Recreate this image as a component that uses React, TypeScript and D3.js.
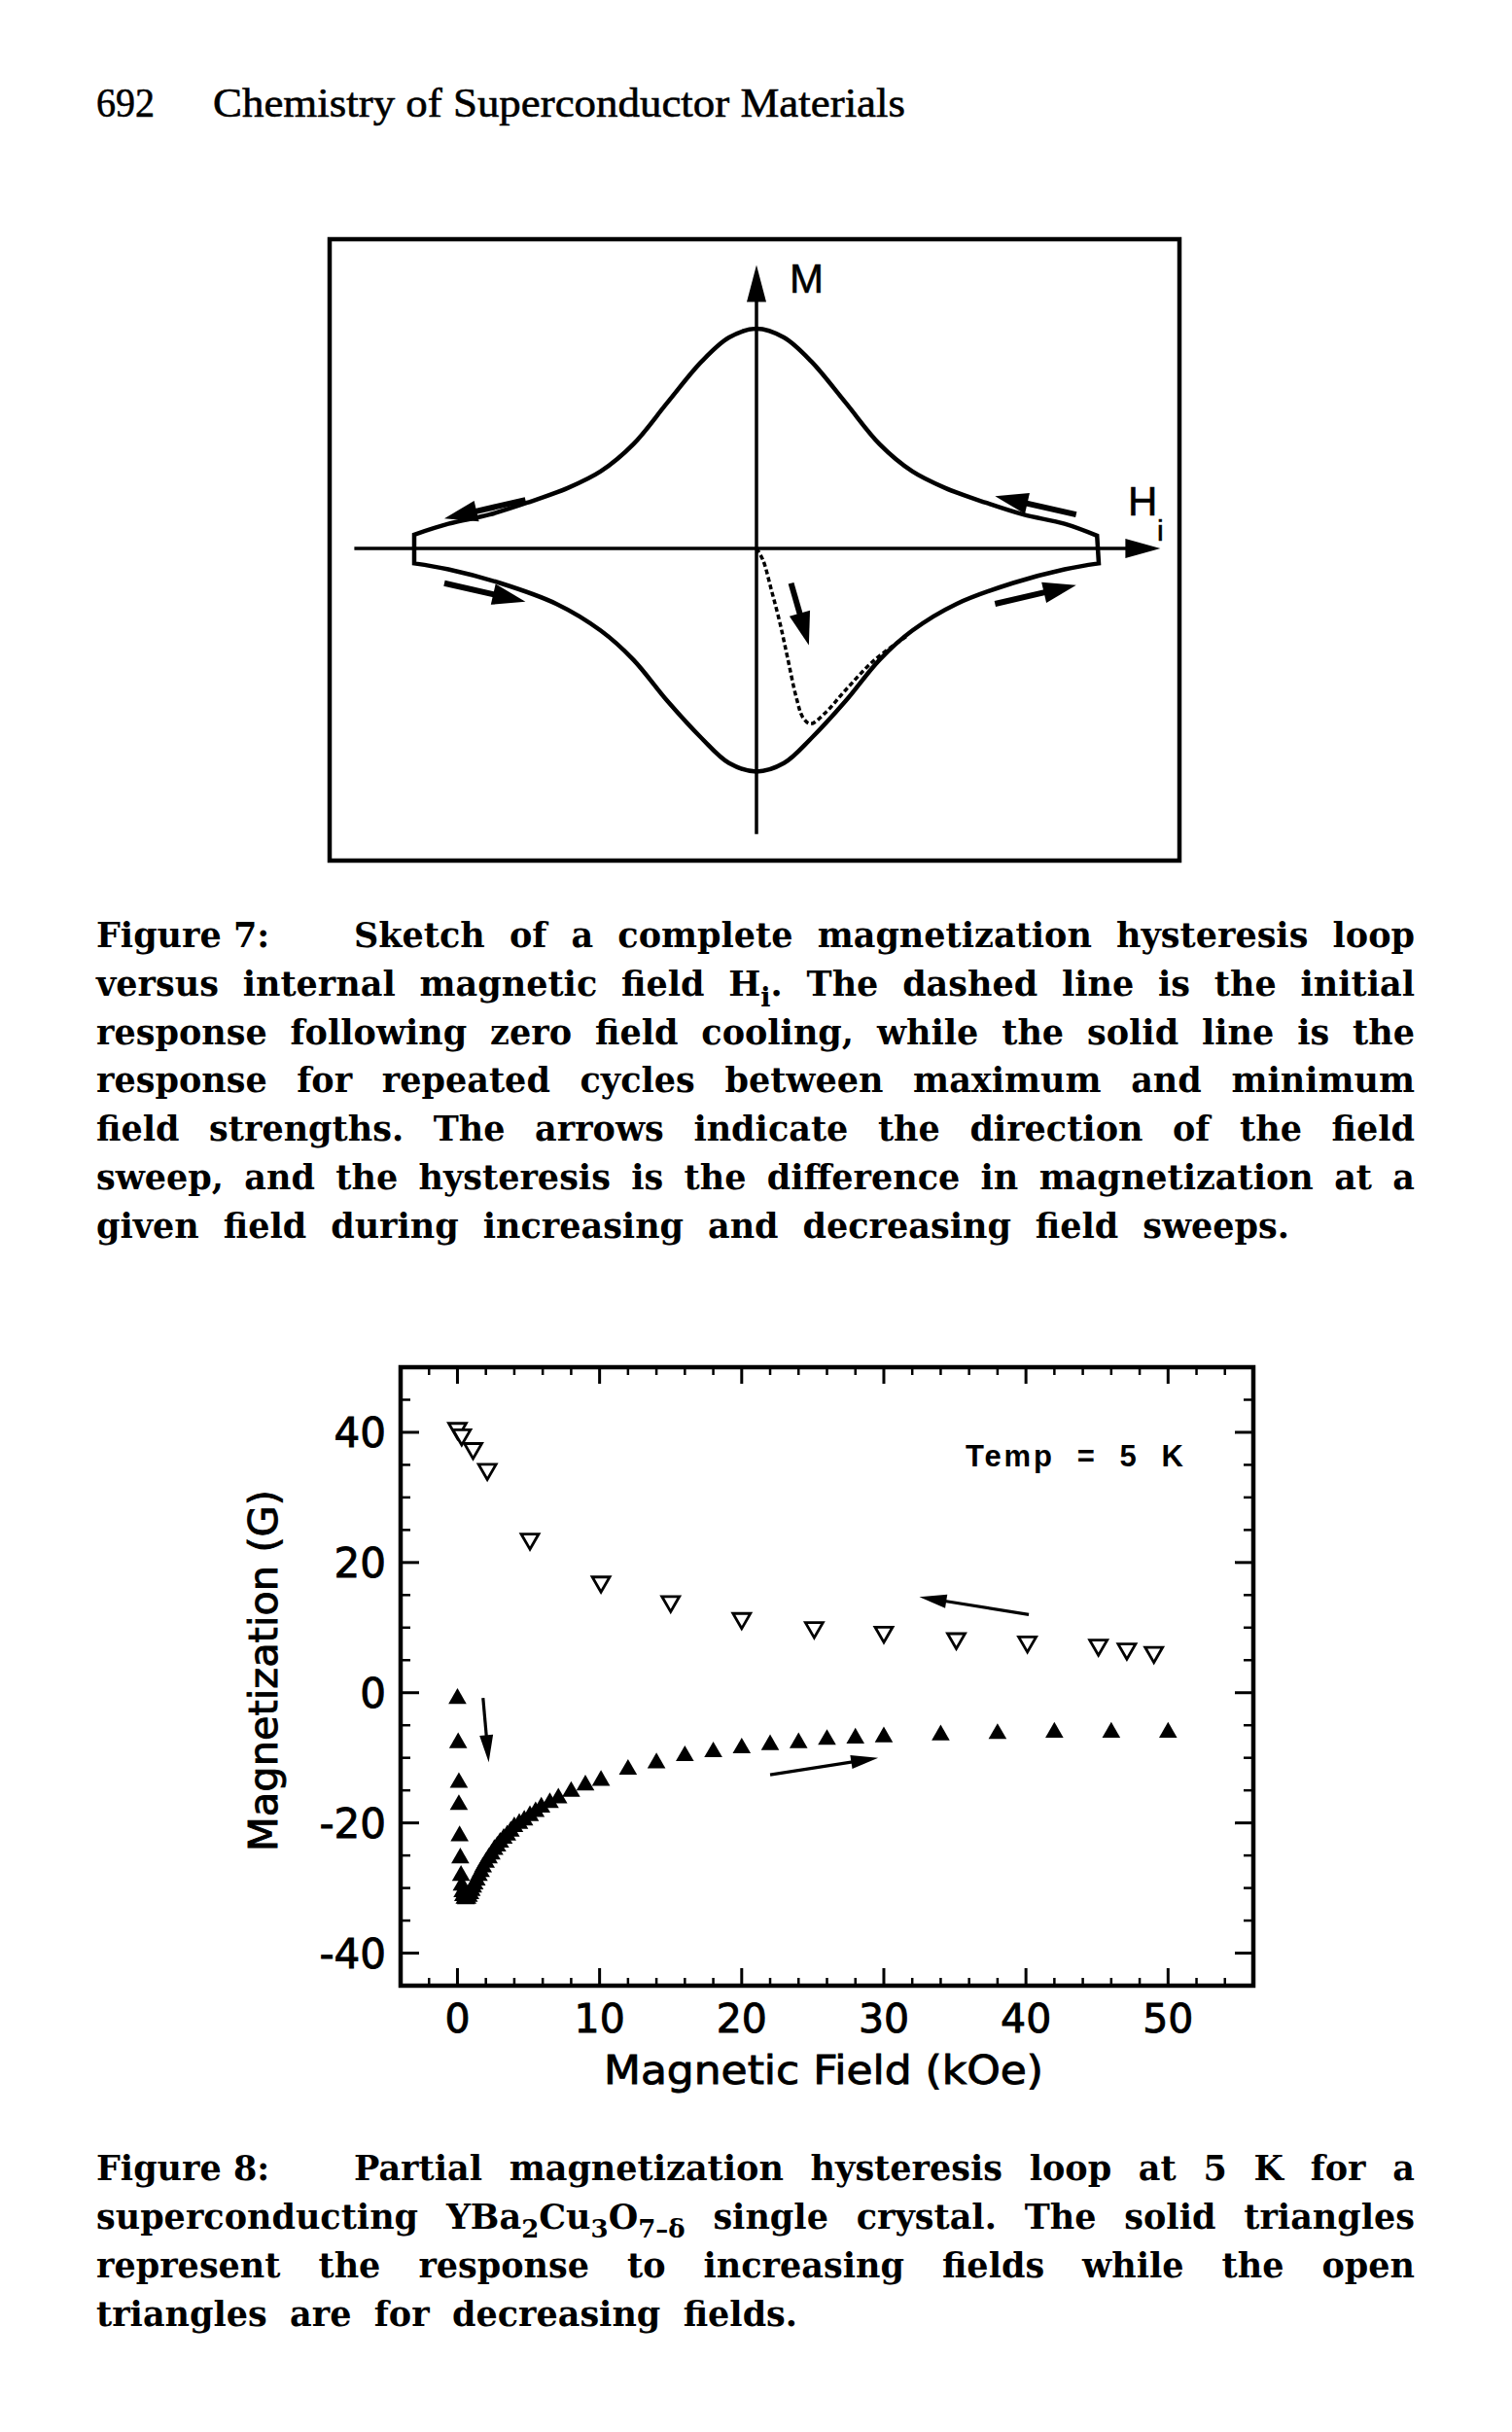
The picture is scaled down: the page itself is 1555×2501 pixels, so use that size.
import React, { useLayoutEffect, useRef } from 'react';
import * as d3 from 'd3';

// ---------- Figure 7 (sketch) data, arbitrary units: H = +-100 at loop ends, M = 100 at peak ----------
const loopUpperH = [-100, -90, -78, -67, -55, -45.5, -36, -26, -16, -8, 0, 8, 16, 26, 36, 45.5, 55, 67, 78, 90, 99.5];
const loopUpperM = [6.3, 11.2, 15.4, 20.8, 27.6, 35.1, 47.4, 66.4, 85.1, 96, 100, 96, 85.1, 66.4, 47.4, 35.1, 27.6, 20.8, 15.4, 11.2, 5.8];
const loopLowerH = [-100, -90, -75, -58.5, -45.5, -36, -26, -16, -8, 0, 8, 16, 26, 36, 45.5, 58.5, 75, 90, 100];
const loopLowerM = [-6.8, -9.5, -15.7, -25.2, -37.4, -50.6, -69.5, -86.4, -97.7, -101.5, -97.7, -86.4, -69.5, -50.6, -37.4, -25.2, -15.7, -9.5, -6.8];
const virginH = [0, 1.9, 4.3, 6.8, 9.2, 11.6, 13.6, 15.8, 19.9, 26.4, 34.6, 44.4];
const virginM = [0, -5.3, -18.6, -33.6, -50.6, -67.6, -77, -79.8, -75.1, -63.8, -50.6, -39.4];
const sketchAxisH = [-117.5, 118];
const sketchAxisM = [-130, 129];
// [fromH, fromM, toH, toM]
const sketchArrows = [
  [-67.5, 22.1, -91.2, 13.6],
  [93.4, 15.4, 69.7, 23.8],
  [-91.2, -15.8, -67.5, -24.2],
  [69.7, -25.2, 93.4, -16.7],
  [10.1, -15.8, 15.3, -44],
];

// ---------- Figure 8 data ----------
const decField = [0, 0.3, 1.1, 2.1, 5.1, 10.1, 15.0, 20.0, 25.1, 30.0, 35.1, 40.1, 45.1, 47.1, 49.0];
const decMag = [40.6, 39.6, 37.5, 34.3, 23.6, 17.0, 14.0, 11.4, 10.0, 9.3, 8.3, 7.8, 7.3, 6.7, 6.2];
const incField = [0, 0.05, 0.1, 0.1, 0.15, 0.2, 0.25, 0.3, 0.35, 0.4, 0.5, 0.6, 0.7, 0.8, 0.9, 1.0, 1.1, 1.2, 1.35, 1.5, 1.65, 1.8, 2.0, 2.2, 2.4, 2.6, 2.8, 3.0, 3.25, 3.5, 3.75, 4.0, 4.35, 4.7, 5.1, 5.5, 5.9, 6.5, 7.1, 8.0, 9.0, 10.1, 12, 14, 16, 18, 20, 22, 24, 26, 28, 30, 34, 38, 42, 46, 50];
const incMag = [-0.9, -7.7, -13.8, -17.2, -22.0, -25.4, -28.1, -29.6, -30.6, -31.2, -31.6, -31.7, -31.6, -31.3, -30.9, -30.4, -29.9, -29.4, -28.8, -28.1, -27.5, -26.8, -26.1, -25.4, -24.8, -24.1, -23.6, -23.0, -22.4, -21.9, -21.3, -20.6, -20.1, -19.6, -18.9, -18.3, -17.6, -16.9, -16.2, -15.2, -14.2, -13.5, -11.8, -10.8, -9.7, -9.1, -8.5, -8.0, -7.7, -7.2, -7.0, -6.8, -6.5, -6.3, -6.1, -6.1, -6.1];
const xMajorTicks = [0, 10, 20, 30, 40, 50];
const xMinorTicks = [-2, 2, 4, 6, 8, 12, 14, 16, 18, 22, 24, 26, 28, 32, 34, 36, 38, 42, 44, 46, 48, 52, 54];
const yMajorTicks = [-40, -20, 0, 20, 40];
const yMinorTicks = [-35, -30, -25, -15, -10, -5, 5, 10, 15, 25, 30, 35, 45];
// [fromField, fromM, toField, toM]
const plotArrows = [
  [1.8, -0.8, 2.2, -10.7],
  [40.2, 12.0, 32.5, 14.7],
  [22.0, -12.6, 29.6, -10.0],
];

// ---------- Text ----------
const headerNumber = '692';
const headerTitle = 'Chemistry of Superconductor Materials';
const captionSerif = "'DejaVu Serif', serif";
const sans = "'DejaVu Sans', sans-serif";

function Arrow({ x1, y1, x2, y2, len, half, w }: any) {
  const dx = x2 - x1, dy = y2 - y1;
  const L = Math.hypot(dx, dy);
  const ux = dx / L, uy = dy / L;
  const bx = x2 - ux * len, by = y2 - uy * len;
  const px = -uy, py = ux;
  return (
    <g>
      <line x1={x1} y1={y1} x2={bx + ux * 3} y2={by + uy * 3} stroke="#000" strokeWidth={w} />
      <polygon
        points={`${x2},${y2} ${bx + px * half},${by + py * half} ${bx - px * half},${by - py * half}`}
        fill="#000"
      />
    </g>
  );
}

export default function App() {
  const svgRef = useRef<SVGSVGElement>(null);

  useLayoutEffect(() => {
    const run = () => {
      const svg = svgRef.current;
      if (!svg) return;
      svg.querySelectorAll('text[data-justify]').forEach((el: any) => {
        el.style.wordSpacing = '0px';
        el.removeAttribute('textLength');
        el.removeAttribute('lengthAdjust');
        const target = +el.getAttribute('data-justify');
        const len = el.getComputedTextLength();
        const n = (el.textContent.match(/ /g) || []).length;
        if (n === 0) return;
        const ws = (target - len) / n;
        if (ws >= 3) {
          el.style.wordSpacing = `${ws}px`;
        } else {
          el.style.wordSpacing = '3px';
          el.setAttribute('textLength', String(target));
          el.setAttribute('lengthAdjust', 'spacingAndGlyphs');
        }
      });
    };
    run();
    const f: any = (document as any).fonts;
    if (f && f.ready) f.ready.then(run);
  }, []);

  // Figure 7 scales
  const sx7 = d3.scaleLinear().domain([-100, 100]).range([426, 1130]);
  const sy7 = d3.scaleLinear().domain([-100, 100]).range([790, 338]);
  const line7 = d3
    .line<[number, number]>()
    .x((d) => sx7(d[0]))
    .y((d) => sy7(d[1]))
    .curve(d3.curveCatmullRom.alpha(0.5));
  const upperPts: [number, number][] = loopUpperH.map((h, i) => [h, loopUpperM[i]] as [number, number]).reverse();
  const lowerPts: [number, number][] = loopLowerH.map((h, i) => [h, loopLowerM[i]] as [number, number]);
  const loopPath = (line7(upperPts) || '') + (line7(lowerPts) || '').replace(/^M/, 'L') + 'Z';
  const virginPath = line7(virginH.map((h, i) => [h, virginM[i]] as [number, number])) || '';

  // Figure 8 scales
  const sx8 = d3.scaleLinear().domain([-4, 56]).range([412, 1289]);
  const sy8 = d3.scaleLinear().domain([-45, 50]).range([2042, 1406]);
  const triUp = d3.symbol().type(d3.symbolTriangle).size(150)() || '';
  const triDown = d3.symbol().type(d3.symbolTriangle).size(140)() || '';
  const xL = sx8(-4), xR = sx8(56), yT = sy8(50), yB = sy8(-45);

  const capX = 99;
  const capRight = 1455;
  const capRestX = 364;
  const f7y = (i: number) => 974 + 49.8 * i;
  const f8y = (i: number) => 2242 + 50 * i;
  const capStyle: any = { fontFamily: captionSerif, fontWeight: 700, fontSize: 35 };
  const heavy = { stroke: '#000', strokeWidth: 0.9 };

  return (
    <svg
      ref={svgRef}
      width={1555}
      height={2501}
      style={{ position: 'absolute', left: 0, top: 0, background: '#fff' }}
    >
      <rect x={0} y={0} width={1555} height={2501} fill="#fff" />
      {/* Header */}
      <text x={99} y={120} fontFamily="'Liberation Serif', serif" fontSize={43} textLength={60} lengthAdjust="spacingAndGlyphs" {...heavy} strokeWidth={0.6}>
        {headerNumber}
      </text>
      <text x={219} y={120} fontFamily="'Liberation Serif', serif" fontSize={43} textLength={712} lengthAdjust="spacingAndGlyphs" {...heavy} strokeWidth={0.6}>
        {headerTitle}
      </text>

      {/* ---------- Figure 7 ---------- */}
      <rect x={339} y={246} width={874} height={639} fill="none" stroke="#000" strokeWidth={4.5} />
      {/* axes */}
      <line x1={sx7(sketchAxisH[0])} y1={sy7(0)} x2={sx7(sketchAxisH[1]) - 20} y2={sy7(0)} stroke="#000" strokeWidth={3.5} />
      <polygon
        points={`${sx7(sketchAxisH[1])},${sy7(0)} ${sx7(sketchAxisH[1]) - 36},${sy7(0) - 10} ${sx7(sketchAxisH[1]) - 36},${sy7(0) + 10}`}
        fill="#000"
      />
      <line x1={sx7(0)} y1={sy7(sketchAxisM[0])} x2={sx7(0)} y2={sy7(sketchAxisM[1]) + 20} stroke="#000" strokeWidth={3.5} />
      <polygon
        points={`${sx7(0)},${sy7(sketchAxisM[1])} ${sx7(0) - 10},${sy7(sketchAxisM[1]) + 38} ${sx7(0) + 10},${sy7(sketchAxisM[1]) + 38}`}
        fill="#000"
      />
      <text x={812} y={301} fontFamily="'Liberation Sans', sans-serif" fontSize={42} {...heavy} strokeWidth={0.6}>M</text>
      <text x={1160} y={530} fontFamily="'Liberation Sans', sans-serif" fontSize={42} {...heavy} strokeWidth={0.6}>H</text>
      <text x={1190} y={556} fontFamily="'Liberation Sans', sans-serif" fontSize={30} {...heavy} strokeWidth={0.6}>i</text>
      {/* loop */}
      <path d={loopPath} fill="none" stroke="#000" strokeWidth={4.5} strokeLinejoin="miter" />
      <path d={virginPath} fill="none" stroke="#000" strokeWidth={3.5} strokeDasharray="5 3" />
      {sketchArrows.map((a, i) => (
        <Arrow key={i} x1={sx7(a[0])} y1={sy7(a[1])} x2={sx7(a[2])} y2={sy7(a[3])} len={34} half={11} w={6} />
      ))}

      {/* Figure 7 caption */}
      <text x={capX} y={f7y(0)} style={capStyle}>Figure 7:</text>
      <text x={capRestX} y={f7y(0)} style={capStyle} data-justify={capRight - capRestX}>
        {'Sketch of a complete magnetization hysteresis loop'}
      </text>
      <text x={capX} y={f7y(1)} style={capStyle} data-justify={capRight - capX}>
        {'versus internal magnetic field H'}
        <tspan dy={11} fontSize={27}>i</tspan>
        <tspan dy={-11}>{'. The dashed line is the initial'}</tspan>
      </text>
      <text x={capX} y={f7y(2)} style={capStyle} data-justify={capRight - capX}>
        {'response following zero field cooling, while the solid line is the'}
      </text>
      <text x={capX} y={f7y(3)} style={capStyle} data-justify={capRight - capX}>
        {'response for repeated cycles between maximum and minimum'}
      </text>
      <text x={capX} y={f7y(4)} style={capStyle} data-justify={capRight - capX}>
        {'field strengths. The arrows indicate the direction of the field'}
      </text>
      <text x={capX} y={f7y(5)} style={capStyle} data-justify={capRight - capX}>
        {'sweep, and the hysteresis is the difference in magnetization at a'}
      </text>
      <text x={capX} y={f7y(6)} style={capStyle} data-justify={1326 - capX}>
        {'given field during increasing and decreasing field sweeps.'}
      </text>

      {/* ---------- Figure 8 ---------- */}
      <g>
        {xMajorTicks.map((v) => (
          <g key={'xM' + v}>
            <line x1={sx8(v)} x2={sx8(v)} y1={yB} y2={yB - 18} stroke="#000" strokeWidth={3} />
            <line x1={sx8(v)} x2={sx8(v)} y1={yT} y2={yT + 17} stroke="#000" strokeWidth={3} />
            <text x={sx8(v)} y={2090} textAnchor="middle" fontFamily={sans} fontSize={41} {...heavy}>{v}</text>
          </g>
        ))}
        {xMinorTicks.map((v) => (
          <g key={'xm' + v}>
            <line x1={sx8(v)} x2={sx8(v)} y1={yB} y2={yB - 8} stroke="#000" strokeWidth={2.5} />
            <line x1={sx8(v)} x2={sx8(v)} y1={yT} y2={yT + 8} stroke="#000" strokeWidth={2.5} />
          </g>
        ))}
        {yMajorTicks.map((v) => (
          <g key={'yM' + v}>
            <line x1={xL} x2={xL + 19} y1={sy8(v)} y2={sy8(v)} stroke="#000" strokeWidth={3} />
            <line x1={xR} x2={xR - 19} y1={sy8(v)} y2={sy8(v)} stroke="#000" strokeWidth={3} />
            <text x={397} y={sy8(v) + 15} textAnchor="end" fontFamily={sans} fontSize={42} {...heavy}>{v}</text>
          </g>
        ))}
        {yMinorTicks.map((v) => (
          <g key={'ym' + v}>
            <line x1={xL} x2={xL + 10} y1={sy8(v)} y2={sy8(v)} stroke="#000" strokeWidth={2.5} />
            <line x1={xR} x2={xR - 10} y1={sy8(v)} y2={sy8(v)} stroke="#000" strokeWidth={2.5} />
          </g>
        ))}
        <rect x={xL} y={yT} width={xR - xL} height={yB - yT} fill="none" stroke="#000" strokeWidth={4.5} />
      </g>
      {decField.map((h, i) => (
        <path
          key={'d' + i}
          d={triDown}
          transform={`translate(${sx8(h)},${sy8(decMag[i])}) rotate(180)`}
          fill="#fff"
          stroke="#000"
          strokeWidth={2.8}
        />
      ))}
      {incField.map((h, i) => (
        <path key={'u' + i} d={triUp} transform={`translate(${sx8(h)},${sy8(incMag[i])})`} fill="#000" />
      ))}
      {plotArrows.map((a, i) => (
        <Arrow key={'pa' + i} x1={sx8(a[0])} y1={sy8(a[1])} x2={sx8(a[2])} y2={sy8(a[3])} len={28} half={7} w={3.2} />
      ))}
      <text
        x={993}
        y={1508}
        fontFamily="'Liberation Sans', sans-serif"
        fontWeight={700}
        fontSize={31}
        textLength={224}
        lengthAdjust="spacing"
        style={{ whiteSpace: 'pre' }}
      >
        {'Temp  =  5  K'}
      </text>
      <text x={847} y={2143} textAnchor="middle" fontFamily={sans} fontSize={40} textLength={452} lengthAdjust="spacingAndGlyphs" {...heavy}>
        {'Magnetic Field (kOe)'}
      </text>
      <text
        transform="translate(285,1718) rotate(-90)"
        textAnchor="middle"
        fontFamily={sans}
        fontSize={40}
        textLength={372}
        lengthAdjust="spacingAndGlyphs"
        {...heavy}
      >
        {'Magnetization (G)'}
      </text>

      {/* Figure 8 caption */}
      <text x={capX} y={f8y(0)} style={capStyle}>Figure 8:</text>
      <text x={capRestX} y={f8y(0)} style={capStyle} data-justify={capRight - capRestX}>
        {'Partial magnetization hysteresis loop at 5 K for a'}
      </text>
      <text x={capX} y={f8y(1)} style={capStyle} data-justify={capRight - capX}>
        {'superconducting YBa'}
        <tspan dy={9} fontSize={26}>2</tspan>
        <tspan dy={-9}>Cu</tspan>
        <tspan dy={9} fontSize={26}>3</tspan>
        <tspan dy={-9}>O</tspan>
        <tspan dy={9} fontSize={26}>{'7\u2013\u03b4'}</tspan>
        <tspan dy={-9}>{' single crystal. The solid triangles'}</tspan>
      </text>
      <text x={capX} y={f8y(2)} style={capStyle} data-justify={capRight - capX}>
        {'represent the response to increasing fields while the open'}
      </text>
      <text x={capX} y={f8y(3)} style={capStyle} data-justify={820 - capX}>
        {'triangles are for decreasing fields.'}
      </text>
    </svg>
  );
}
